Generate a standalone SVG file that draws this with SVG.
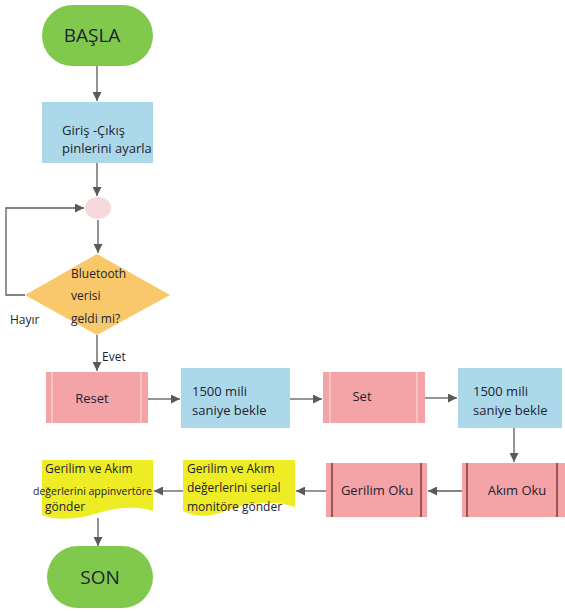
<svg xmlns="http://www.w3.org/2000/svg" width="565" height="612" viewBox="0 0 565 612">
<defs>
<style>
text{font-family:"Open Sans","Noto Sans","Liberation Sans",sans-serif;fill:#223;}
.term{fill:#80c94c;}
.proc{fill:#acd9e9;}
.pink{fill:#f4a3a6;}
.lightln{stroke:#f9cfcc;stroke-width:1.5;}
.darkln{stroke:#6a2b2b;stroke-width:1.3;}
.doc{fill:#eeec24;}
.conn{fill:none;stroke:#5a5a5a;stroke-width:1.3;marker-end:url(#arr);}
.t13{font-size:13px;}
.t12{font-size:12px;}
</style>
<marker id="arr" viewBox="0 0 10 10" refX="10" refY="5" markerWidth="9" markerHeight="9" orient="auto" markerUnits="userSpaceOnUse">
<path d="M0,0 L10,5 L0,10 z" fill="#5a5a5a"/>
</marker>
</defs>
<rect width="565" height="612" fill="#fff"/>

<g id="connectors">
<path class="conn" d="M97,66 V101"/>
<path class="conn" d="M97,163 V196"/>
<path class="conn" d="M98,220 V253"/>
<path class="conn" d="M25,295 H6 V208 H84"/>
<path class="conn" d="M97,335 V371"/>
<path class="conn" d="M148,399 H180"/>
<path class="conn" d="M290,399 H322"/>
<path class="conn" d="M425,398 H457"/>
<path class="conn" d="M514,428 V462"/>
<path class="conn" d="M462,491 H428"/>
<path class="conn" d="M326,491 H296"/>
<path class="conn" d="M183,491 H154"/>
<path class="conn" d="M98,518 V546"/>
</g>

<g id="start">
<rect class="term" x="42" y="5" width="111" height="61" rx="30.5"/>
<text x="92" y="42" font-size="19" text-anchor="middle">BAŞLA</text>
</g>

<g id="setup">
<rect class="proc" x="42" y="102" width="111" height="61"/>
<text class="t13" x="62" y="135">Giriş -Çıkış</text>
<text class="t13" x="62" y="153">pinlerini ayarla</text>
</g>

<g id="join">
<ellipse cx="98" cy="208" rx="13" ry="11" fill="#f6d8dc"/>
</g>

<g id="decision">
<path d="M97,254 L170,295 L97,335 L25,295 Z" fill="#f9c86a"/>
<text class="t12" x="71" y="278">Bluetooth</text>
<text class="t12" x="71" y="300">verisi</text>
<text class="t12" x="71" y="323">geldi mi?</text>
<text class="t12" x="10" y="324">Hayır</text>
<text class="t12" x="102" y="361">Evet</text>
</g>

<g id="reset">
<rect class="pink" x="46" y="372" width="102" height="51"/>
<line class="lightln" x1="52" y1="372" x2="52" y2="423"/>
<line class="lightln" x1="141" y1="372" x2="141" y2="423"/>
<text class="t13" x="92" y="403" text-anchor="middle">Reset</text>
</g>

<g id="wait1">
<rect class="proc" x="181" y="368" width="109" height="60"/>
<text class="t13" x="192" y="396">1500 mili</text>
<text class="t13" x="192" y="415">saniye bekle</text>
</g>

<g id="set">
<rect class="pink" x="323" y="372" width="102" height="51"/>
<line class="lightln" x1="330" y1="372" x2="330" y2="423"/>
<line class="lightln" x1="417" y1="372" x2="417" y2="423"/>
<text class="t13" x="362" y="401" text-anchor="middle">Set</text>
</g>

<g id="wait2">
<rect class="proc" x="458" y="368" width="104" height="60"/>
<text class="t13" x="473" y="396">1500 mili</text>
<text class="t13" x="473" y="415">saniye bekle</text>
</g>

<g id="akim">
<rect class="pink" x="462" y="463" width="103" height="54"/>
<line class="darkln" x1="467" y1="463" x2="467" y2="517"/>
<line class="darkln" x1="557" y1="463" x2="557" y2="517"/>
<text class="t13" x="517" y="495" text-anchor="middle">Akım Oku</text>
</g>

<g id="gerilim">
<rect class="pink" x="326" y="463" width="101" height="54"/>
<line class="darkln" x1="332" y1="463" x2="332" y2="517"/>
<line class="darkln" x1="421" y1="463" x2="421" y2="517"/>
<text class="t13" x="377" y="495" text-anchor="middle">Gerilim Oku</text>
</g>

<g id="serial">
<path class="doc" d="M183,460 H295 V507 C275,500 250,502 228,510 C212,517 196,518 183,511 Z"/>
<text class="t12" x="187" y="473">Gerilim ve Akım</text>
<text class="t12" x="187" y="492">değerlerini serial</text>
<text class="t12" x="187" y="511">monitöre gönder</text>
</g>

<g id="app">
<path class="doc" d="M42,460 H153 V511 C135,505 112,508 95,514 C75,520 55,520 42,515 Z"/>
<text class="t12" x="45" y="473">Gerilim ve Akım</text>
<text x="33" y="495" font-size="10.5">değerlerini appinvertöre</text>
<text class="t12" x="45" y="511">gönder</text>
</g>

<g id="end">
<rect class="term" x="47" y="546" width="106" height="62" rx="31"/>
<text x="100" y="584" font-size="19" text-anchor="middle">SON</text>
</g>
</svg>
